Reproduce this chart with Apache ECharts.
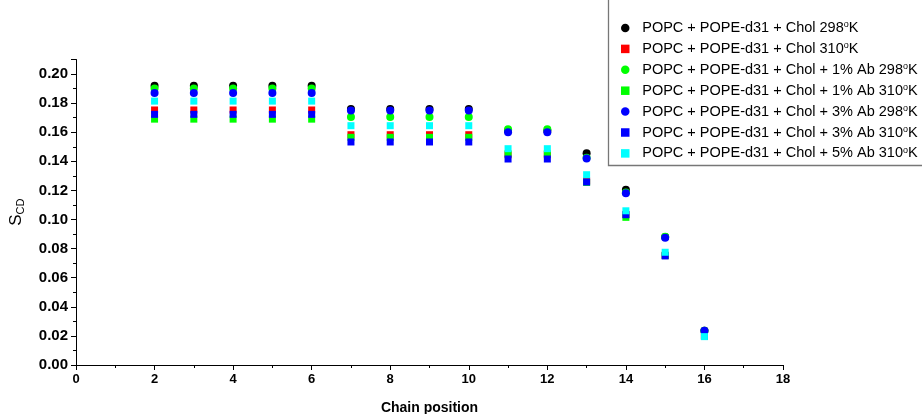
<!DOCTYPE html>
<html>
<head>
<meta charset="utf-8">
<script src="https://cdn.jsdelivr.net/npm/echarts@6/dist/echarts.min.js"></script>
<style>html,body{margin:0;padding:0;background:#fff}#c{width:922px;height:414px}</style>
</head>
<body>
<div id="c"></div>
<script>
const positions = [2, 3, 4, 5, 6, 7, 8, 9, 10, 11, 12, 13, 14, 15, 16];
const seriesNames = [
  'POPC + POPE-d31 + Chol 298°K',
  'POPC + POPE-d31 + Chol 310°K',
  'POPC + POPE-d31 + Chol + 1% Ab 298°K',
  'POPC + POPE-d31 + Chol + 1% Ab 310°K',
  'POPC + POPE-d31 + Chol + 3% Ab 298°K',
  'POPC + POPE-d31 + Chol + 3% Ab 310°K',
  'POPC + POPE-d31 + Chol + 5% Ab 310°K'
];
const chol298 =      [0.192, 0.192, 0.192, 0.192, 0.192, 0.176, 0.176, 0.176, 0.176, 0.161, 0.161, 0.1455, 0.1205, 0.088, 0.0235];
const chol310 =      [0.1753, 0.1753, 0.1753, 0.1753, 0.1753, 0.1583, 0.1583, 0.1583, 0.1583, 0.1445, 0.1445, 0.1265, 0.1035, 0.0755, 0.020];
const ab1_298 =      [0.190, 0.190, 0.190, 0.190, 0.190, 0.1705, 0.1705, 0.1705, 0.1705, 0.162, 0.162, 0.1425, 0.1185, 0.0882, 0.0235];
const ab1_310 =      [0.169, 0.169, 0.169, 0.169, 0.169, 0.1565, 0.1565, 0.1565, 0.1565, 0.1452, 0.1452, 0.1255, 0.1015, 0.0752, 0.0198];
const ab3_298 =      [0.187, 0.187, 0.187, 0.187, 0.187, 0.175, 0.175, 0.175, 0.175, 0.160, 0.160, 0.142, 0.118, 0.0875, 0.0235];
const ab3_310 =      [0.1723, 0.1723, 0.1723, 0.1723, 0.1723, 0.1533, 0.1533, 0.1533, 0.1533, 0.1416, 0.1416, 0.1258, 0.1033, 0.075, 0.0198];
const ab5_310 =      [0.1814, 0.1814, 0.1814, 0.1814, 0.1814, 0.1645, 0.1645, 0.1645, 0.1645, 0.1487, 0.1487, 0.1308, 0.106, 0.0775, 0.0195];
const xTicks = [0, 2, 4, 6, 8, 10, 12, 14, 16, 18];
const yTicks = [0, 0.02, 0.04, 0.06, 0.08, 0.10, 0.12, 0.14, 0.16, 0.18, 0.20];

const allValues = [chol298, chol310, ab1_298, ab1_310, ab3_298, ab3_310, ab5_310];
const colors = ['#000000', '#ff0000', '#00ff00', '#00ff00', '#0000ff', '#0000ff', '#00ffff'];
const symbols = ['circle', 'rect', 'circle', 'rect', 'circle', 'rect', 'rect'];
const SQUARE = 'path://M0 0H10V10H0Z';

const FONT = '"Liberation Sans", Arial, sans-serif';
const chart = echarts.init(document.getElementById('c'), null, {renderer: 'canvas'});

const series = allValues.map((vals, i) => ({
  name: seriesNames[i],
  type: 'scatter',
  symbol: symbols[i],
  symbolSize: symbols[i] === 'circle' ? 8 : 7,
  itemStyle: {color: colors[i], opacity: 1},
  data: vals.map((v, j) => [positions[j], v]),
  z: 2 + i
}));

chart.setOption({
  animation: false,
  backgroundColor: '#fff',
  grid: {left: 76, right: 139, top: 59.5, bottom: 49, outerBoundsMode: 'none', containLabel: false},
  xAxis: {
    type: 'value', min: 0, max: 18, interval: 2,
    name: 'Chain position', nameLocation: 'middle', nameGap: 36,
    nameTextStyle: {fontFamily: FONT, fontWeight: 'bold', fontSize: 14, color: '#000'},
    axisLine: {show: true, onZero: false, lineStyle: {color: '#000', width: 1}},
    axisTick: {show: true, inside: false, length: 5, lineStyle: {color: '#000'}},
    minorTick: {show: true, splitNumber: 2, length: 3, lineStyle: {color: '#000'}},
    axisLabel: {fontFamily: FONT, fontWeight: 'bold', fontSize: 13, color: '#000', margin: 8,
      formatter: v => xTicks.includes(v) ? String(v) : ''},
    splitLine: {show: false}
  },
  yAxis: {
    type: 'value', min: 0, max: 0.21, interval: 0.02,
    name: 'S{sub|CD}', nameLocation: 'middle', nameGap: 50, nameRotate: 90,
    nameTextStyle: {fontFamily: FONT, fontSize: 17, color: '#000',
      rich: {sub: {fontFamily: FONT, fontSize: 11, verticalAlign: 'bottom', padding: [8, 0, 0, 0], color: '#000'}}},
    axisLine: {show: true, onZero: false, lineStyle: {color: '#000', width: 1}},
    axisTick: {show: true, inside: false, length: 5, lineStyle: {color: '#000'}},
    minorTick: {show: true, splitNumber: 2, length: 3, lineStyle: {color: '#000'}},
    axisLabel: {fontFamily: FONT, fontWeight: 'bold', fontSize: 15, color: '#000', margin: 8, showMaxLabel: false,
      formatter: v => {
        const m = yTicks.find(t => Math.abs(t - v) < 1e-9);
        return m === undefined ? '' : m.toFixed(2);
      }},
    splitLine: {show: false}
  },
  legend: {
    orient: 'vertical', left: 616, top: 15.5,
    itemWidth: 24, itemHeight: 8.5, itemGap: 5.9,
    data: seriesNames.map((n, i) => ({name: n, icon: symbols[i] === 'rect' ? SQUARE : 'circle'})),
    formatter: n => n.replace('°', '{sup|o}'),
    textStyle: {fontFamily: FONT, fontSize: 14.5, color: '#000',
      rich: {sup: {fontFamily: FONT, fontSize: 9, verticalAlign: 'top', padding: [0, 0, 6, 0], color: '#000'}}}
  },
  graphic: [{
    type: 'rect', left: 606, top: -5, z: 100, silent: true,
    shape: {width: 340, height: 168},
    style: {fill: 'none', stroke: '#777', lineWidth: 1.3}
  }],
  series: series
});
</script>
</body>
</html>
